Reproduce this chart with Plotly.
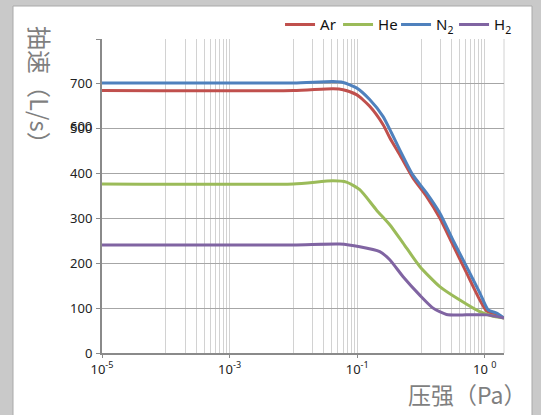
import plotly.graph_objects as go
import math

# ---------------- data (axis units) ----------------
series_names = ["Ar", "He", "N<sub>2</sub>", "H<sub>2</sub>"]
series_colors = ["#c0504d", "#9bbb59", "#4f81bd", "#8064a2"]

ar_p = [1e-5, 0.01, 0.0419, 0.0601, 0.0975, 0.157, 0.255, 0.324, 0.465, 0.743, 1.22, 1.97, 3.16, 5.16, 8.36, 10.6, 13.5, 20]
ar_s = [585, 585, 589, 587, 576, 550, 509, 480, 442, 391, 349, 301, 241, 179, 118, 94, 87, 78]

he_p = [1e-5, 0.01, 0.0419, 0.0679, 0.1096, 0.200, 0.324, 0.524, 0.957, 1.97, 4.06, 8.36, 12.7, 20]
he_s = [377, 377, 384, 381, 364, 319, 286, 245, 193, 148, 118, 92, 83, 78]

n2_p = [1e-5, 0.01, 0.0419, 0.0601, 0.0975, 0.157, 0.255, 0.344, 0.465, 0.743, 1.22, 1.97, 3.16, 5.16, 8.36, 11.3, 15.3, 20]
n2_s = [602, 602, 605, 603, 591, 565, 527, 491, 453, 397, 357, 312, 252, 193, 134, 96, 89, 78]

h2_p = [1e-5, 0.01, 0.0533, 0.1096, 0.226, 0.324, 0.524, 0.957, 1.55, 2.51, 5.16, 10.6, 20]
h2_s = [241, 241, 243, 237, 226, 208, 170, 129, 100, 86, 85, 85, 78]

x_label_vals = [1e-5, 1e-3, 1e-1, 1e1]
x_label_text = ["10<sup>-5</sup>", "10<sup>-3</sup>", "10<sup>-1</sup>", "10 <sup>0</sup>"]
x_grid_decades = [1e-4, 1e-2, 1e0]
x_grid_mults = [1, 2, 3, 4, 5, 6, 7, 8, 9, 10]
x_grid_extra = [20]

y_tick_vals = [0, 100, 200, 300, 400, 500, 600, 700]
y_tick_text = ["0", "100", "200", "300", "400", "500", "700", ""]
y_extra_label = ("600", 507)

x_range_p = [1e-5, 20]
y_range = [0, 700]

# ---------------- figure ----------------
W, H = 541, 415
L, R, T, B = 102, 37, 39, 62
pw, ph = W - L - R, H - T - B

fig = go.Figure()
for name, color, xs, ys in zip(series_names, series_colors,
                               [ar_p, he_p, n2_p, h2_p], [ar_s, he_s, n2_s, h2_s]):
    fig.add_trace(go.Scatter(x=xs, y=ys, mode="lines", name=name,
                             line=dict(color=color, width=3, shape="spline", smoothing=0.6),
                             hoverinfo="skip"))

# invisible helper trace so the labelled overlay axis is rendered
fig.add_trace(go.Scatter(x=x_label_vals, y=[None] * len(x_label_vals), xaxis="x2",
                         mode="lines", showlegend=False, hoverinfo="skip"))

grid_vals = [d * m for d in x_grid_decades for m in x_grid_mults] + x_grid_extra
tick_font = dict(family="Noto Sans", size=13, color="#222222")
xr = [math.log10(x_range_p[0]), math.log10(x_range_p[1])]

fig.update_layout(
    width=W, height=H,
    margin=dict(l=L, r=R, t=T, b=B, pad=0, autoexpand=False),
    paper_bgcolor="#c9c9c9",
    plot_bgcolor="rgba(0,0,0,0)",
    showlegend=True,
    legend=dict(orientation="h", x=1.02, xanchor="right", y=1.045, yanchor="middle",
                font=dict(family="Noto Sans", size=15, color="#111111"),
                bgcolor="rgba(0,0,0,0)", itemwidth=30, tracegroupgap=0,
                entrywidth=13, entrywidthmode="pixels"),
    xaxis=dict(type="log", range=xr,
               tickmode="array", tickvals=grid_vals, ticktext=[""] * len(grid_vals),
               ticks="", showgrid=True, gridcolor="#d2d2d2", gridwidth=1,
               showline=True, linecolor="#8a8a8a", linewidth=2, zeroline=False),
    xaxis2=dict(type="log", overlaying="x", anchor="y", side="bottom",
                range=xr,
                tickmode="array", tickvals=x_label_vals, ticktext=x_label_text,
                ticks="outside", ticklen=4, tickcolor="#8a8a8a", tickwidth=1,
                showgrid=False, showline=False, zeroline=False, tickfont=tick_font),
    yaxis=dict(range=y_range, tickmode="array", tickvals=y_tick_vals, ticktext=y_tick_text,
               ticks="outside", ticklen=4, tickcolor="#8a8a8a", ticklabelstandoff=1,
               showgrid=True, gridcolor="#a6a6a6", gridwidth=1,
               showline=True, linecolor="#8a8a8a", linewidth=2, zeroline=False,
               tickfont=tick_font),
)

# white panel with thin border
fig.add_shape(type="rect", xref="paper", yref="paper", layer="below",
              x0=(13 - L) / pw, x1=(532 - L) / pw, y0=-0.4, y1=(H - B - 6) / ph,
              fillcolor="white", line=dict(color="#a9a9a9", width=1))
# right frame line
fig.add_shape(type="line", xref="paper", yref="paper", layer="below",
              x0=1, x1=1, y0=0, y1=1, line=dict(color="#d2d2d2", width=1))

# overlapping extra tick label
fig.add_annotation(text=y_extra_label[0], xref="paper", yref="y",
                   x=(94 - L) / pw, y=y_extra_label[1], xanchor="right", yanchor="middle",
                   showarrow=False, font=tick_font)

# axis titles
title_font = dict(family="Noto Sans CJK SC", size=24, color="#7f7f7f")
fig.add_annotation(text="抽速（L/s）", xref="paper", yref="paper",
                   x=(40 - L) / pw, y=(H - B - 91) / ph, textangle=90,
                   xanchor="center", yanchor="middle", showarrow=False, font=title_font)
fig.add_annotation(text="压强（Pa）", xref="paper", yref="paper",
                   x=(406 - L) / pw, y=(H - B - 394) / ph,
                   xanchor="left", yanchor="middle", showarrow=False,
                   font=dict(family="Noto Sans CJK SC", size=23, color="#7f7f7f"))

fig.write_html("out.html", config={"displayModeBar": False},
               post_script="document.body.style.margin='0px';")
